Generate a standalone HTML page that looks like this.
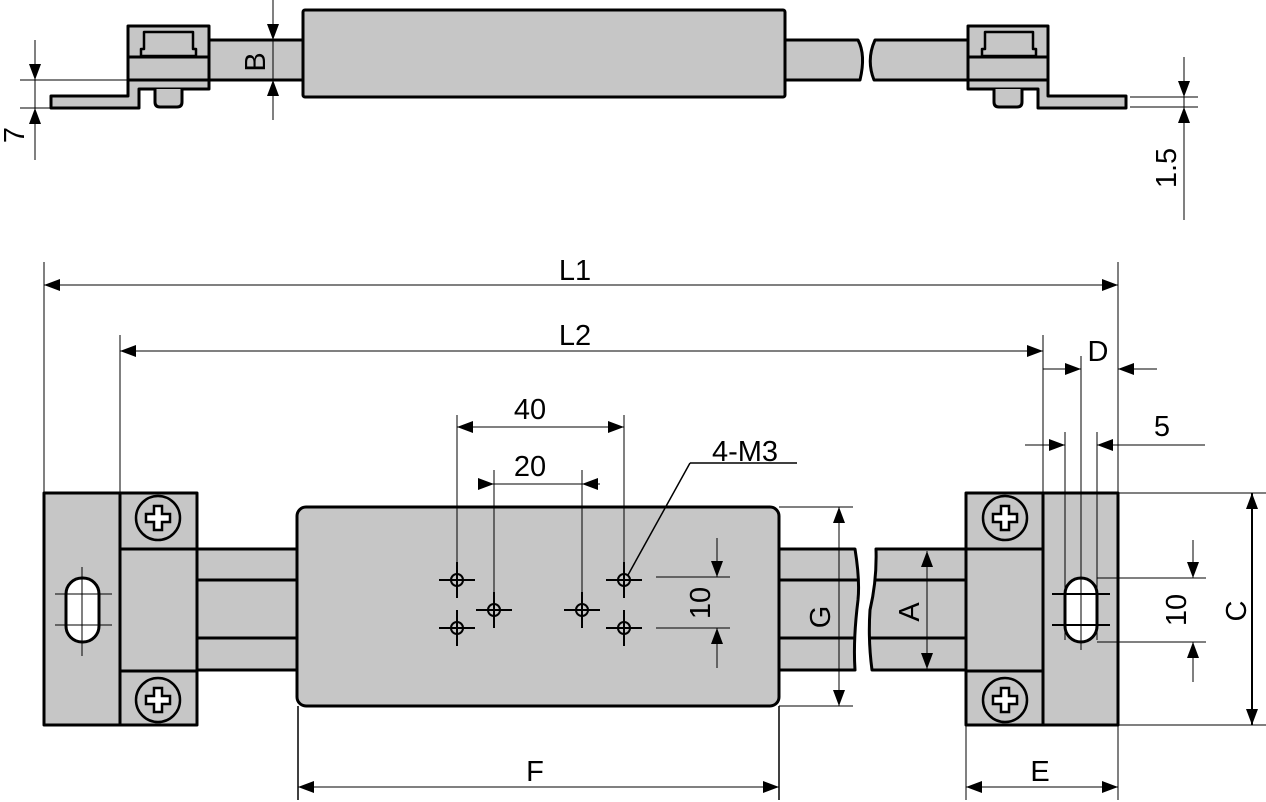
<!DOCTYPE html>
<html><head><meta charset="utf-8"><style>
html,body{margin:0;padding:0;background:#fff;}
svg{display:block;}
text{font-family:"Liberation Sans",Arial,sans-serif;fill:#000;}
</style></head><body>
<svg width="1266" height="802" viewBox="0 0 1266 802" xmlns="http://www.w3.org/2000/svg">
<defs>
<marker id="ae" markerUnits="userSpaceOnUse" markerWidth="18" markerHeight="12" refX="16" refY="6" orient="auto"><path d="M0,0 L16,6 L0,12 Z" fill="#000"/></marker>
<marker id="as" markerUnits="userSpaceOnUse" markerWidth="18" markerHeight="12" refX="1" refY="6" orient="auto"><path d="M17,0 L1,6 L17,12 Z" fill="#000"/></marker>
</defs>
<g fill="#c6c6c6" stroke="#000" stroke-width="3" stroke-linejoin="round">
<rect x="209" y="40" width="95" height="40"/>
<path d="M785,40 H858 Q866,55 860,80 H785 Z"/>
<path d="M875,40 H970 V80 H874 Q866,60 875,40 Z"/>
<rect x="303" y="10" width="482" height="87" rx="2"/>
<path d="M128,26 H209 V89 H139 V108 H51 V96 H128 Z"/>
<line x1="128" y1="57" x2="209" y2="57"/>
<line x1="128" y1="80" x2="209" y2="80"/>
<path d="M144,32 H193 V49 H196 V56 H141 V49 H144 Z" stroke-width="2.5"/>
<path d="M155,89 V102 Q155,107 160,107 H177 Q182,107 182,102 V89" />
<path d="M968,26 H1048 V96 H1126 V108 H1038 V89 H968 Z"/>
<line x1="968" y1="57" x2="1048" y2="57"/>
<line x1="968" y1="80" x2="1048" y2="80"/>
<path d="M985,32 H1033 V49 H1036 V56 H982 V49 H985 Z" stroke-width="2.5"/>
<path d="M994,89 V102 Q994,107 999,107 H1017 Q1022,107 1022,102 V89"/>

<rect x="197" y="549" width="101" height="121"/>
<line x1="197" y1="580" x2="298" y2="580"/>
<line x1="197" y1="638" x2="298" y2="638"/>
<path d="M779,549 H855 Q860,580 858,600 Q853,640 855,670 H779 Z"/>
<line x1="779" y1="580" x2="858" y2="580"/>
<line x1="779" y1="638" x2="855" y2="638"/>
<path d="M876,549 H966 V670 H872 Q868,640 870,610 Q877,580 876,549 Z"/>
<line x1="875" y1="580" x2="966" y2="580"/>
<line x1="869" y1="638" x2="966" y2="638"/>
<rect x="297" y="507" width="482" height="199" rx="9"/>
<rect x="44" y="493" width="76" height="232"/>
<rect x="120" y="493" width="77" height="232"/>
<line x1="120" y1="549" x2="197" y2="549"/>
<line x1="120" y1="671" x2="197" y2="671"/>
<rect x="66" y="578" width="33" height="64" rx="16" fill="#fff"/>
<rect x="966" y="493" width="77" height="232"/>
<rect x="1043" y="493" width="75" height="232"/>
<line x1="966" y1="549" x2="1043" y2="549"/>
<line x1="966" y1="671" x2="1043" y2="671"/>
<rect x="1065" y="578" width="32" height="64" rx="16" fill="#fff"/>
</g>
<g stroke="#000" fill="none">
<g id="scr">
<circle cx="158" cy="518" r="22" stroke-width="2.5"/>
<path d="M154,506 h8 v8 h8 v8 h-8 v8 h-8 v-8 h-8 v-8 h8 z" fill="#fff" stroke-width="2.5"/>
</g>
<use href="#scr" transform="translate(0,182)"/>
<use href="#scr" transform="translate(847,0)"/>
<use href="#scr" transform="translate(847,182)"/>
</g>
<g stroke="#000" stroke-width="1" fill="none">
<line x1="35" y1="40" x2="35" y2="160"/>
<line x1="20" y1="80" x2="128" y2="80"/>
<line x1="20" y1="108" x2="51" y2="108"/>
<line x1="35" y1="62" x2="35" y2="80" marker-end="url(#ae)"/>
<line x1="35" y1="126" x2="35" y2="108" marker-end="url(#ae)"/>
<line x1="273" y1="0" x2="273" y2="120"/>
<line x1="273" y1="18" x2="273" y2="40" marker-end="url(#ae)"/>
<line x1="273" y1="102" x2="273" y2="80" marker-end="url(#ae)"/>
<line x1="1184" y1="57" x2="1184" y2="220"/>
<line x1="1130" y1="97" x2="1198" y2="97"/>
<line x1="1130" y1="107" x2="1198" y2="107"/>
<line x1="1184" y1="80" x2="1184" y2="97" marker-end="url(#ae)"/>
<line x1="1184" y1="124" x2="1184" y2="107" marker-end="url(#ae)"/>
<line x1="44" y1="262" x2="44" y2="493"/>
<line x1="1118" y1="262" x2="1118" y2="800"/>
<line x1="44" y1="285" x2="1118" y2="285" marker-start="url(#as)" marker-end="url(#ae)"/>
<line x1="120" y1="335" x2="120" y2="493"/>
<line x1="1043" y1="335" x2="1043" y2="493"/>
<line x1="120" y1="351" x2="1043" y2="351" marker-start="url(#as)" marker-end="url(#ae)"/>
<line x1="1043" y1="369" x2="1081" y2="369" marker-end="url(#ae)"/>
<line x1="1157" y1="369" x2="1118" y2="369" marker-end="url(#ae)"/>
<line x1="1081" y1="356" x2="1081" y2="650"/>
<line x1="1025" y1="445" x2="1065" y2="445" marker-end="url(#ae)"/>
<line x1="1205" y1="445" x2="1097" y2="445" marker-end="url(#ae)"/>
<line x1="1065" y1="432" x2="1065" y2="640"/>
<line x1="1097" y1="432" x2="1097" y2="640"/>
<line x1="1052" y1="594" x2="1110" y2="594" stroke-width="2"/>
<line x1="1052" y1="625" x2="1110" y2="625" stroke-width="2"/>
<line x1="82" y1="567" x2="82" y2="656"/>
<line x1="55" y1="594" x2="112" y2="594"/>
<line x1="55" y1="625" x2="112" y2="625"/>
<line x1="1097" y1="578" x2="1206" y2="578"/>
<line x1="1097" y1="642" x2="1206" y2="642"/>
<line x1="1193" y1="540" x2="1193" y2="578" marker-end="url(#ae)"/>
<line x1="1193" y1="682" x2="1193" y2="642" marker-end="url(#ae)"/>
<line x1="1118" y1="493" x2="1266" y2="493"/>
<line x1="1118" y1="725" x2="1266" y2="725"/>
<line x1="1252" y1="493" x2="1252" y2="725" stroke-width="2" marker-start="url(#as)" marker-end="url(#ae)"/>
<line x1="966" y1="725" x2="966" y2="800"/>
<line x1="966" y1="787" x2="1118" y2="787" marker-start="url(#as)" marker-end="url(#ae)"/>
<line x1="298" y1="706" x2="298" y2="800" stroke-width="1.5"/>
<line x1="779" y1="706" x2="779" y2="800" stroke-width="1.5"/>
<line x1="298" y1="787" x2="779" y2="787" marker-start="url(#as)" marker-end="url(#ae)"/>
<line x1="779" y1="507" x2="853" y2="507"/>
<line x1="779" y1="706" x2="853" y2="706"/>
<line x1="839" y1="507" x2="839" y2="706" marker-start="url(#as)" marker-end="url(#ae)"/>
<line x1="905" y1="549" x2="940" y2="549" stroke-width="2.5"/>
<line x1="927" y1="551" x2="927" y2="669" marker-start="url(#as)" marker-end="url(#ae)"/>
<line x1="656" y1="577" x2="730" y2="577"/>
<line x1="656" y1="628" x2="730" y2="628"/>
<line x1="717" y1="538" x2="717" y2="577" marker-end="url(#ae)"/>
<line x1="717" y1="668" x2="717" y2="628" marker-end="url(#ae)"/>
<line x1="457" y1="415" x2="457" y2="580"/>
<line x1="624" y1="415" x2="624" y2="580"/>
<line x1="457" y1="427" x2="624" y2="427" marker-start="url(#as)" marker-end="url(#ae)"/>
<line x1="494" y1="470" x2="494" y2="610"/>
<line x1="582" y1="470" x2="582" y2="610"/>
<line x1="478" y1="484" x2="494" y2="484" marker-end="url(#ae)"/>
<line x1="600" y1="484" x2="582" y2="484" marker-end="url(#ae)"/>
<line x1="494" y1="484" x2="582" y2="484"/>
<line x1="690" y1="463" x2="797" y2="463" stroke-width="1.5"/>
<line x1="690" y1="463" x2="628" y2="575" stroke-width="1.5"/>
</g>
<g stroke="#000" stroke-width="2" fill="none">
<g id="h"><circle cx="457" cy="580" r="6"/><line x1="439" y1="580" x2="475" y2="580"/><line x1="457" y1="562" x2="457" y2="598"/></g>
<use href="#h" transform="translate(0,48)"/>
<use href="#h" transform="translate(37,30)"/>
<use href="#h" transform="translate(125,30)"/>
<use href="#h" transform="translate(167,0)"/>
<use href="#h" transform="translate(167,48)"/>
</g>
<g font-size="29">
<text x="575" y="280" text-anchor="middle">L1</text>
<text x="575" y="345" text-anchor="middle">L2</text>
<text x="1098" y="361" text-anchor="middle">D</text>
<text x="1162" y="436" text-anchor="middle">5</text>
<text x="530" y="419" text-anchor="middle">40</text>
<text x="530" y="476" text-anchor="middle">20</text>
<text x="745" y="461" text-anchor="middle">4-M3</text>
<text x="535" y="781" text-anchor="middle">F</text>
<text x="1040" y="781" text-anchor="middle">E</text>
<text transform="translate(24,135) rotate(-90)" text-anchor="middle">7</text>
<text transform="translate(265,62) rotate(-90)" text-anchor="middle">B</text>
<text transform="translate(1176,168) rotate(-90)" text-anchor="middle">1.5</text>
<text transform="translate(1186,610) rotate(-90)" text-anchor="middle">10</text>
<text transform="translate(1246,611) rotate(-90)" text-anchor="middle">C</text>
<text transform="translate(710,603) rotate(-90)" text-anchor="middle">10</text>
<text transform="translate(830,617) rotate(-90)" text-anchor="middle">G</text>
<text transform="translate(919,612) rotate(-90)" text-anchor="middle">A</text>
</g>
</svg>
</body></html>
